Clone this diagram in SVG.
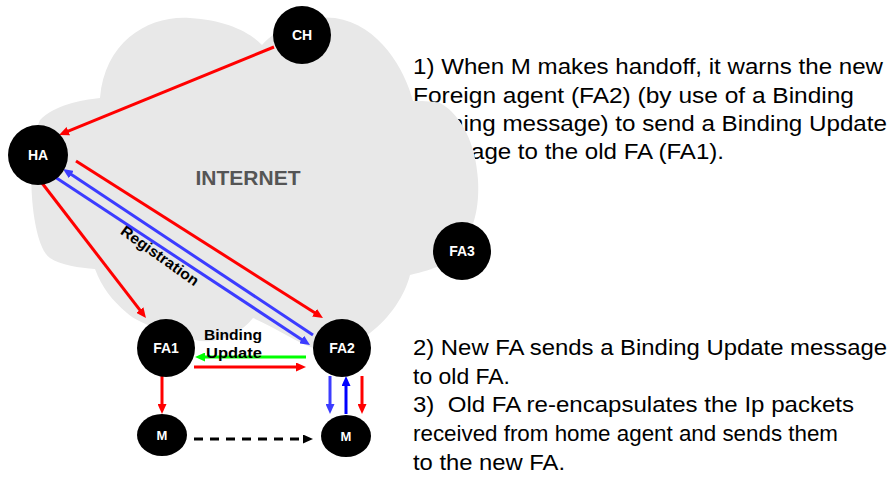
<svg xmlns="http://www.w3.org/2000/svg" width="893" height="477" viewBox="0 0 893 477">
<style>
.txt{font-family:"Liberation Sans",Arial,sans-serif;font-size:22px;fill:#000}
.lbl{font-family:"Liberation Sans",Arial,sans-serif;font-weight:bold;fill:#fff;text-anchor:middle}
.blk{font-family:"Liberation Sans",Arial,sans-serif;font-weight:bold;fill:#000}
.r{stroke:#ff0000;stroke-width:3;fill:none}
.b{stroke:#3c3cff;stroke-width:3;fill:none}
.b2{stroke:#0000ff;stroke-width:3;fill:none}
.g{stroke:#00ff00;stroke-width:3;fill:none}
.k{stroke:#000;stroke-width:3;fill:none;stroke-dasharray:9,7}
</style>
<defs>
<marker id="ar" markerUnits="userSpaceOnUse" markerWidth="10" markerHeight="9" refX="4" refY="4.5" orient="auto"><path d="M0,0L10,4.5L0,9z" fill="#ff0000"/></marker>
<marker id="ab" markerUnits="userSpaceOnUse" markerWidth="10" markerHeight="9" refX="4" refY="4.5" orient="auto"><path d="M0,0L10,4.5L0,9z" fill="#3c3cff"/></marker>
<marker id="ab2" markerUnits="userSpaceOnUse" markerWidth="10" markerHeight="9" refX="4" refY="4.5" orient="auto"><path d="M0,0L10,4.5L0,9z" fill="#0000ff"/></marker>
<marker id="ag" markerUnits="userSpaceOnUse" markerWidth="10" markerHeight="9" refX="4" refY="4.5" orient="auto"><path d="M0,0L10,4.5L0,9z" fill="#00ff00"/></marker>
<marker id="ak" markerUnits="userSpaceOnUse" markerWidth="10" markerHeight="9" refX="4" refY="4.5" orient="auto"><path d="M0,0L10,4.5L0,9z" fill="#000"/></marker>
</defs>
<rect width="893" height="477" fill="#fff"/>
<g id="notes">
<text class="txt" x="413" y="74" textLength="470" lengthAdjust="spacingAndGlyphs">1) When M makes handoff, it warns the new</text>
<text class="txt" x="413" y="103" textLength="441" lengthAdjust="spacingAndGlyphs">Foreign agent (FA2) (by use of a Binding</text>
<text class="txt" x="450" y="131" textLength="437" lengthAdjust="spacingAndGlyphs">ning message) to send a Binding Update</text>
<text class="txt" x="471" y="159" textLength="253" lengthAdjust="spacingAndGlyphs">age to the old FA (FA1).</text>
<text class="txt" x="413" y="355" textLength="474" lengthAdjust="spacingAndGlyphs">2) New FA sends a Binding Update message</text>
<text class="txt" x="413" y="384" textLength="97" lengthAdjust="spacingAndGlyphs">to old FA.</text>
<text class="txt" x="413" y="412" textLength="441" lengthAdjust="spacingAndGlyphs" xml:space="preserve">3)  Old FA re-encapsulates the Ip packets</text>
<text class="txt" x="413" y="441" textLength="425" lengthAdjust="spacingAndGlyphs">received from home agent and sends them</text>
<text class="txt" x="413" y="470" textLength="152" lengthAdjust="spacingAndGlyphs">to the new FA.</text>
</g>
<g id="cloud">
<path fill="#e8e8e8" d="M100,98 C105,40 150,15 190,18 C225,20 250,32 262,45 C280,25 310,15 335,18 C380,25 405,70 413,101 C420,101 430,101 440,103 C462,115 476,145 478,180 C480,215 470,235 460,250 C450,262 440,268 410,275 C405,295 390,318 370,333 C350,348 320,352 308,346 C290,338 270,325 253,318 C240,335 215,345 195,340 C175,335 140,325 127,313 C112,300 102,288 95,269 C80,268 60,265 50,258 C30,245 25,150 40,120 C55,105 80,100 100,98 Z"/>
<text x="248" y="185" font-family="Liberation Sans,Arial,sans-serif" font-weight="bold" font-size="21" fill="#555" text-anchor="middle">INTERNET</text>
</g>
<g id="connectors">
<line class="r" x1="274" y1="47" x2="64.6" y2="132.7" marker-end="url(#ar)"/>
<line class="r" x1="42" y1="183" x2="142.3" y2="313.2" marker-end="url(#ar)"/>
<line class="r" x1="76" y1="161" x2="317.9" y2="314.8" marker-end="url(#ar)"/>
<line class="b" x1="313" y1="335" x2="68" y2="172.3" marker-end="url(#ab)"/>
<line class="b" x1="55" y1="177" x2="305" y2="341.7" marker-end="url(#ab)"/>
<line class="g" x1="306" y1="357" x2="201" y2="357" marker-end="url(#ag)"/>
<line class="r" x1="194" y1="367" x2="300" y2="367" marker-end="url(#ar)"/>
<line class="r" x1="162" y1="376" x2="162" y2="408" marker-end="url(#ar)"/>
<line class="b" x1="330" y1="376" x2="330" y2="408" marker-end="url(#ab)"/>
<line class="b2" x1="346" y1="414" x2="346" y2="382" marker-end="url(#ab2)"/>
<line class="r" x1="362" y1="376" x2="362" y2="408" marker-end="url(#ar)"/>
<line class="k" x1="194" y1="439" x2="307" y2="439" marker-end="url(#ak)"/>
<text class="blk" font-size="15" transform="translate(157,260) rotate(35.5)" text-anchor="middle" textLength="92" lengthAdjust="spacingAndGlyphs">Registration</text>
<text class="blk" font-size="14" x="204" y="340" textLength="58" lengthAdjust="spacingAndGlyphs">Binding</text>
<text class="blk" font-size="14" x="206" y="358" textLength="56" lengthAdjust="spacingAndGlyphs">Update</text>
</g>
<g id="CH"><circle cx="302" cy="35" r="29"/><text class="lbl" x="302" y="40" font-size="14">CH</text></g>
<g id="HA"><circle cx="38" cy="155" r="30"/><text class="lbl" x="38" y="160" font-size="14">HA</text></g>
<g id="FA1"><circle cx="166" cy="348" r="29"/><text class="lbl" x="166" y="353" font-size="14">FA1</text></g>
<g id="FA2"><circle cx="342" cy="348" r="29"/><text class="lbl" x="342" y="353" font-size="14">FA2</text></g>
<g id="FA3"><circle cx="462" cy="251" r="29"/><text class="lbl" x="462" y="256" font-size="14">FA3</text></g>
<g id="M1"><ellipse cx="162" cy="435" rx="25" ry="21"/><text class="lbl" x="162" y="440" font-size="13">M</text></g>
<g id="M2"><ellipse cx="346" cy="436" rx="25" ry="21"/><text class="lbl" x="346" y="441" font-size="13">M</text></g>
</svg>
